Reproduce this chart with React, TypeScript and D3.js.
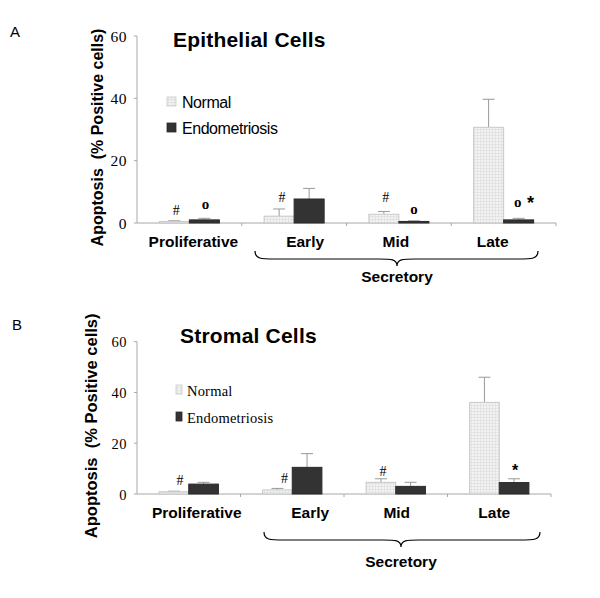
import React from "react";
import * as d3 from "d3";

const categories = ["Proliferative", "Early", "Mid", "Late"];
const seriesNames = ["Normal", "Endometriosis"];
const yTicks = [0, 20, 40, 60];

const epiNormal = [0.5, 2.2, 2.8, 30.7];
const epiNormalErr = [0.2, 2.3, 0.9, 9.0];
const epiEndo = [1.0, 7.7, 0.5, 1.0];
const epiEndoErr = [0.5, 3.4, 0.2, 0.5];

const stroNormal = [0.9, 1.6, 4.6, 36.1];
const stroNormalErr = [0.2, 0.6, 1.4, 9.9];
const stroEndo = [3.9, 10.5, 3.0, 4.5];
const stroEndoErr = [0.7, 5.4, 1.6, 1.5];

// annotations: [category index, series index, text]
const epiMarks: [number, number, string][] = [
  [0, 0, "#"], [0, 1, "o"], [1, 0, "#"], [2, 0, "#"], [2, 1, "o"], [3, 1, "o"], [3, 1, "*"],
];
const stroMarks: [number, number, string][] = [
  [0, 0, "#"], [1, 0, "#"], [2, 0, "#"], [3, 1, "*"],
];

type PanelCfg = {
  letter: string;
  letterPos: [number, number];
  title: string;
  titlePos: [number, number];
  x0: number; x1: number; yTop: number; yBot: number;
  normal: number[]; normalErr: number[]; endo: number[]; endoErr: number[];
  marks: [number, number, string][];
  markOffsets: [number, number][];
  labelDx: number[];
  labelY: number;
  legendX: number; legendY: number; legendGap: number;
  legendSerif: boolean;
  tickFont: number;
  yLabelX: number; yLabelSize: number;
  brace: [number, number, number, number];
  secretoryY: number;
};

function Panel({ c }: { c: PanelCfg }) {
  const y = d3.scaleLinear().domain([0, 60]).range([c.yBot, c.yTop]);
  const x = d3.scaleBand().domain(categories).range([c.x0, c.x1]).paddingInner(0.427).paddingOuter(0.2135);
  const xs = d3.scaleBand().domain(seriesNames).range([0, x.bandwidth()]).padding(0);
  const step = x.step();
  const vals = [c.normal, c.endo];
  const errs = [c.normalErr, c.endoErr];
  const [bx0, bx1, tipX, bTop] = c.brace;
  const bMid = bTop + 8;
  const bTip = bTop + 15;
  const bracePath = `M${bx0},${bTop} C${bx0},${bMid} ${bx0 + 6},${bMid} ${bx0 + 20},${bMid} L${tipX - 18},${bMid} C${tipX - 6},${bMid} ${tipX},${bMid} ${tipX},${bTip} C${tipX},${bMid} ${tipX + 6},${bMid} ${tipX + 18},${bMid} L${bx1 - 20},${bMid} C${bx1 - 6},${bMid} ${bx1},${bMid} ${bx1},${bTop}`;
  return (
    <g>
      <text x={c.letterPos[0]} y={c.letterPos[1]} fontFamily="Liberation Sans, Arial" fontSize={15}>{c.letter}</text>
      <text x={c.titlePos[0]} y={c.titlePos[1]} fontFamily="Liberation Sans, Arial" fontWeight="bold" fontSize={21} letterSpacing={0.2}>{c.title}</text>
      <text transform={`translate(${c.yLabelX},${(c.yTop + c.yBot) / 2 + 8}) rotate(-90)`} textAnchor="middle" fontFamily="Liberation Sans, Arial" fontWeight="bold" fontSize={c.yLabelSize}>
        {"Apoptosis\u00a0\u00a0(% Positive cells)"}
      </text>
      <line x1={c.x0} x2={c.x0} y1={c.yTop} y2={c.yBot} stroke="#a8a8a8" strokeWidth={1} />
      <line x1={c.x0} x2={c.x1} y1={c.yBot} y2={c.yBot} stroke="#a8a8a8" strokeWidth={1} />
      {yTicks.map((t) => (
        <g key={t}>
          <line x1={c.x0 - 3} x2={c.x0} y1={y(t)} y2={y(t)} stroke="#a8a8a8" />
          <text x={c.x0 - 10} y={y(t) + 5.5} textAnchor="end" fontFamily="Liberation Serif, Times New Roman" fontSize={c.tickFont} letterSpacing={0.5}>{t}</text>
        </g>
      ))}
      {categories.map((_, i) => (
        <line key={i} x1={c.x0 + step * (i + 1)} x2={c.x0 + step * (i + 1)} y1={c.yBot} y2={c.yBot + 3} stroke="#a8a8a8" />
      ))}
      {categories.map((cat, i) => (
        <g key={cat}>
          {seriesNames.map((s, j) => {
            const bx = (x(cat) as number) + (xs(s) as number);
            const bw = xs.bandwidth();
            const v = vals[j][i];
            const e = errs[j][i];
            const cx = bx + bw / 2;
            return (
              <g key={s}>
                <line x1={cx} x2={cx} y1={y(v)} y2={y(v + e)} stroke="#999" strokeWidth={1} />
                <line x1={cx - 6} x2={cx + 6} y1={y(v + e)} y2={y(v + e)} stroke="#999" strokeWidth={1} />
                <rect x={bx} y={y(v)} width={bw} height={c.yBot - y(v)}
                  fill={j === 0 ? "url(#gridPat)" : "#333"}
                  stroke={j === 0 ? "#c9c9c9" : "#2a2a2a"} strokeWidth={1} />
              </g>
            );
          })}
        </g>
      ))}
      {c.marks.map(([ci, si, t], k) => {
        const cat = categories[ci];
        const s = seriesNames[si];
        const cx = (x(cat) as number) + (xs(s) as number) + xs.bandwidth() / 2;
        const top = y(vals[si][ci] + errs[si][ci]);
        const [dx, dy] = c.markOffsets[k];
        const isStar = t === "*";
        return (
          <text key={k} x={cx + dx} y={top + dy} textAnchor="middle"
            fontFamily={isStar ? "Liberation Sans, Arial" : "Liberation Serif, Times New Roman"}
            fontWeight={t === "o" || isStar ? "bold" : "normal"}
            fontSize={isStar ? (c.letter === "A" ? 18 : 16) : t === "o" ? 15 : 14}>{t}</text>
        );
      })}
      {categories.map((cat, i) => (
        <text key={cat} x={(x(cat) as number) + x.bandwidth() / 2 + c.labelDx[i]} y={c.labelY} textAnchor="middle"
          fontFamily="Liberation Sans, Arial" fontWeight="bold" fontSize={15.5}>{cat}</text>
      ))}
      <path d={bracePath} fill="none" stroke="#000" strokeWidth={1.2} />
      <text x={tipX} y={c.secretoryY} textAnchor="middle" fontFamily="Liberation Sans, Arial" fontWeight="bold" fontSize={15.5}>Secretory</text>
      {seriesNames.map((s, j) => (
        <g key={s}>
          <rect x={c.legendX} y={c.legendY + j * c.legendGap - 5} width={c.legendSerif ? 6 : 9} height={9}
            fill={j === 0 ? "url(#gridPat)" : "#333"} stroke={j === 0 ? "#c9c9c9" : "#2a2a2a"} strokeWidth={0.8} />
          <text x={c.legendX + (c.legendSerif ? 11 : 15)} y={c.legendY + j * c.legendGap + 5.5}
            fontFamily={c.legendSerif ? "Liberation Serif, Times New Roman" : "Liberation Sans, Arial"}
            fontSize={c.legendSerif ? 14.5 : 16} letterSpacing={c.legendSerif ? 0.2 : -0.45}>{s}</text>
        </g>
      ))}
    </g>
  );
}

const panelA: PanelCfg = {
  letter: "A", letterPos: [10, 37],
  title: "Epithelial Cells", titlePos: [173, 47],
  x0: 137, x1: 556, yTop: 36, yBot: 223,
  normal: epiNormal, normalErr: epiNormalErr, endo: epiEndo, endoErr: epiEndoErr,
  marks: epiMarks,
  markOffsets: [[2, -6], [1, -9], [3, -7], [2, -9], [0, -7], [-1, -11], [12, -9]],
  labelDx: [4, 11, -3, -11], labelY: 247,
  legendX: 167, legendY: 102, legendGap: 26, legendSerif: false,
  tickFont: 15.5, yLabelX: 103, yLabelSize: 16,
  brace: [255, 538, 397, 251], secretoryY: 282,
};

const panelB: PanelCfg = {
  letter: "B", letterPos: [12, 330],
  title: "Stromal Cells", titlePos: [180, 343],
  x0: 137, x1: 551, yTop: 341.7, yBot: 494,
  normal: stroNormal, normalErr: stroNormalErr, endo: stroEndo, endoErr: stroEndoErr,
  marks: stroMarks,
  markOffsets: [[6, -6], [7, -5], [2, -3], [1, -3]],
  labelDx: [8, 18, 1, -5], labelY: 518,
  legendX: 176, legendY: 390, legendGap: 27, legendSerif: true,
  tickFont: 14.5, yLabelX: 97, yLabelSize: 16.5,
  brace: [264, 540, 401, 532], secretoryY: 567,
};

export default function App() {
  return (
    <svg width={600} height={598} style={{ display: "block", position: "absolute", left: 0, top: 0, background: "#fff" }}>
      <defs>
        <pattern id="gridPat" width={3} height={3} patternUnits="userSpaceOnUse">
          <rect width={3} height={3} fill="#f3f3f3" />
          <path d="M0,0.5 H3 M0.5,0 V3" stroke="#dedede" strokeWidth={0.7} />
        </pattern>
      </defs>
      <rect width={600} height={598} fill="#fff" />
      <Panel c={panelA} />
      <Panel c={panelB} />
    </svg>
  );
}
